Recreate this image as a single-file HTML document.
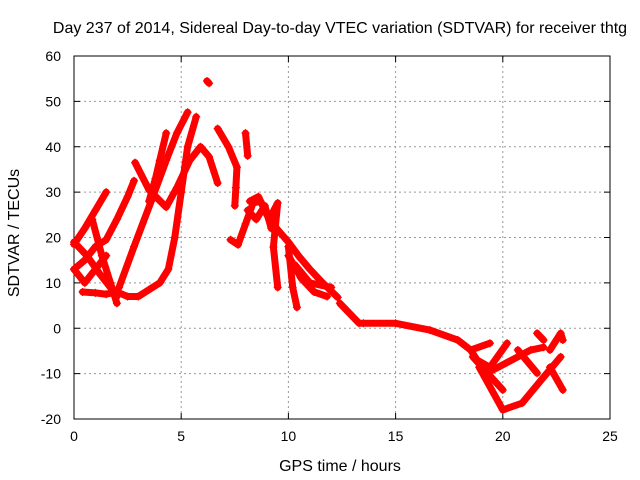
<!DOCTYPE html>
<html><head><meta charset="utf-8"><style>
body{margin:0;background:#fff;}
svg{display:block;font-family:"Liberation Sans",sans-serif;}
</style></head><body>
<svg id="chart" width="640" height="480">
<text x="340" y="33" font-size="16" text-anchor="middle">Day 237 of 2014, Sidereal Day-to-day VTEC variation (SDTVAR) for receiver thtg</text>
<text x="340" y="471" font-size="16" text-anchor="middle">GPS time / hours</text>
<text transform="translate(19,233) rotate(-90)" font-size="16" text-anchor="middle">SDTVAR / TECUs</text>
<g id="grid"></g><g id="axes"></g><g id="marks"></g>
</svg>
<script>
const xTicks=[0,5,10,15,20,25];
const yTicks=[-20,-10,0,10,20,30,40,50,60];
const track1=[[0,18.5],[0.5,22],[1,26],[1.5,30]];
const track2=[[0,13],[0.5,15],[1,18],[1.5,19.5],[2,24],[2.5,29],[2.8,32.5]];
const track3=[[0.85,24],[1.3,16],[1.7,10],[2,5.5]];
const track4=[[0,19],[0.6,16],[1.2,12],[1.7,9],[2,7]];
const track5=[[0,13],[0.5,10],[1,13],[1.5,16]];
const track6=[[0.4,8],[1,7.8],[1.5,7.5],[2,8],[2.5,7],[3,7],[3.5,8.5],[4,10],[4.4,13],[4.7,20],[5,30],[5.3,40],[5.7,46.6]];
const track7=[[2.1,9],[2.8,18],[3.6,28],[4.3,37],[4.8,43],[5.3,47.6]];
const track8=[[3.5,28],[3.8,33],[4,37],[4.3,43]];
const track9=[[2.85,36.5],[3.5,30.5],[4.3,26.7],[4.8,31],[5.4,37],[5.9,40],[6.3,37.8],[6.7,32]];
const track10=[[6.7,44],[7.2,40],[7.6,35.5],[7.55,31],[7.5,27]];
const track11=[[8,43],[8.1,38]];
const track12=[[6.2,54.5],[6.3,54]];
const track13=[[7.3,19.5],[7.65,18.4],[8,23],[8.35,27.6],[8.7,28],[9,25],[9.5,21.7],[10,19],[10.5,15.8],[11,13],[11.6,10],[12.3,6.8]];
const track14=[[8.2,28],[8.6,29],[9.1,24],[9.5,27.6],[9.3,17.9],[9.5,9]];
const track15=[[10,18],[10.2,9],[10.4,4.6]];
const track16=[[12.4,5.5],[13.3,1.1],[13.5,1.1],[15,1.1],[16.6,-0.4],[17.9,-2.6],[18.5,-4.8],[19.4,-3.3]];
const track17=[[18.5,-4.8],[18.8,-7],[19.4,-8.6],[20.2,-3.3]];
const track18=[[18.6,-6.3],[20,-13.6]];
const track19=[[18.9,-8.6],[20,-18],[20.9,-16.5],[21.9,-10.8],[22.7,-6.3]];
const track20=[[19.5,-9.3],[21.3,-4.8],[21.9,-4.2]];
const track21=[[20.7,-4.8],[21.6,-9.9]];
const track22=[[21.6,-1.1],[21.9,-2.6]];
const track23=[[22.2,-4.8],[22.7,-1.1],[22.8,-2.6]];
const track24=[[22.2,-8.6],[22.8,-13.6]];
const track25=[[10,16],[10.6,11],[11.2,8],[11.8,7]];
const track26=[[10.3,14],[11,10],[12,9]];
const track27=[[8.1,26],[8.5,24],[8.9,27],[9.2,22]];
const tracks=[track1,track2,track3,track4,track5,track6,track7,track8,track9,track10,track11,track12,track13,track14,track15,track16,track17,track18,track19,track20,track21,track22,track23,track24,track25,track26,track27];

const L=74,R=610,T=56,B=419;
const sx=v=>L+(v-0)/(25-0)*(R-L);
const sy=v=>B-(v+20)/(80)*(B-T);
const NS="http://www.w3.org/2000/svg";
function mk(tag,attrs,parent){const e=document.createElementNS(NS,tag);for(const k in attrs)e.setAttribute(k,attrs[k]);parent.appendChild(e);return e;}
const grid=document.getElementById('grid'),axes=document.getElementById('axes'),marks=document.getElementById('marks');
xTicks.forEach(t=>{
  const x=sx(t);
  if(t>0&&t<25){const g=mk('line',{x1:x,y1:T,x2:x,y2:B,stroke:'#999','stroke-dasharray':'2,3'},grid);
  
  }
  mk('line',{x1:x,y1:B,x2:x,y2:B-6,stroke:'#000'},axes);
  mk('line',{x1:x,y1:T,x2:x,y2:T+6,stroke:'#000'},axes);
  const tx=mk('text',{x:x,y:B+22,'font-size':14,'text-anchor':'middle'},axes);tx.textContent=t;
  
  
});
yTicks.forEach(t=>{
  const y=sy(t);
  if(t>-20&&t<60){const g=mk('line',{x1:L,y1:y,x2:R,y2:y,stroke:'#999','stroke-dasharray':'2,3'},grid);
  
  }
  mk('line',{x1:L,y1:y,x2:L+6,y2:y,stroke:'#000'},axes);
  mk('line',{x1:R,y1:y,x2:R-6,y2:y,stroke:'#000'},axes);
  const tx=mk('text',{x:L-13,y:y+5,'font-size':14,'text-anchor':'end'},axes);tx.textContent=t;
  
  
});
const fr=mk('rect',{x:L,y:T,width:R-L,height:B-T,fill:'none',stroke:'#000'},axes);


tracks.forEach(tr=>{
  const pl=mk('polyline',{points:tr.map(p=>sx(p[0])+','+sy(p[1])).join(' '),fill:'none',stroke:'#f00','stroke-width':7,'stroke-linejoin':'round','stroke-linecap':'round'},marks);
  
  
  tr.forEach(p=>{
    const x=sx(p[0]),y=sy(p[1]);
    const m=mk('path',{d:`M${x-4},${y}H${x+4}M${x},${y-4}V${y+4}`,stroke:'#f00','stroke-width':1.2},marks);
    
    
  });
});
</script>
</body></html>
